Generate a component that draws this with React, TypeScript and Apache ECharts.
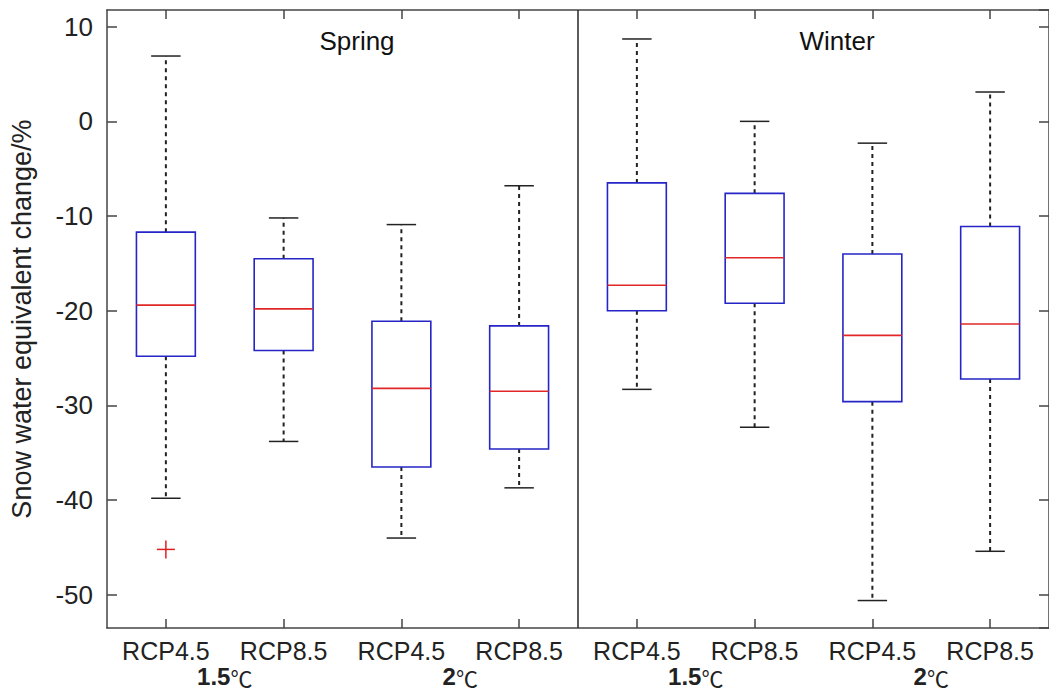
import React, { useEffect, useRef } from "react";
import * as echarts from "echarts";

const categories = ["RCP4.5", "RCP8.5", "RCP4.5", "RCP8.5", "RCP4.5", "RCP8.5", "RCP4.5", "RCP8.5"];
const groupLabels = ["1.5", "2", "1.5", "2"];
const whiskerHigh = [6.9, -10.2, -10.9, -6.8, 8.7, 0.0, -2.3, 3.1];
const q3 = [-11.7, -14.5, -21.1, -21.6, -6.5, -7.6, -14.0, -11.1];
const median = [-19.4, -19.8, -28.2, -28.5, -17.3, -14.4, -22.6, -21.4];
const q1 = [-24.8, -24.2, -36.5, -34.6, -20.0, -19.2, -29.6, -27.2];
const whiskerLow = [-39.8, -33.8, -44.0, -38.7, -28.3, -32.3, -50.6, -45.4];
const outliers = [[0, -45.2]];
const dividerAfter = [3];
const panelTitles = ["Spring", "Winter"];

const FONT = "'Liberation Sans', Arial, sans-serif";
const AXIS_COLOR = "#444";

export default function App() {
  const ref = useRef<HTMLDivElement>(null);
  useEffect(() => {
    if (!ref.current) return;
    const chart = echarts.init(ref.current, null, { renderer: "svg" });
    const boxData = categories.map((_, i) => [i, whiskerLow[i], q1[i], median[i], q3[i], whiskerHigh[i]]);

    const option: any = {
      animation: false,
      backgroundColor: "#fff",
      textStyle: { fontFamily: FONT },
      grid: { left: 105, top: 10, width: 947, height: 618 },
      xAxis: [
        {
          type: "category",
          data: categories,
          position: "bottom",
          boundaryGap: true,
          axisLine: { show: true, onZero: false, lineStyle: { color: AXIS_COLOR, width: 1.5 } },
          axisTick: { show: true, inside: true, alignWithLabel: true, length: 9, lineStyle: { color: AXIS_COLOR, width: 1.5 } },
          axisLabel: { interval: 0, hideOverlap: false, color: "#222", fontSize: 25, lineHeight: 25, fontFamily: FONT, margin: 10 },
          splitLine: { show: false },
        },
        {
          type: "category",
          data: groupLabels,
          position: "bottom",
          boundaryGap: true,
          axisLine: { show: false, onZero: false },
          axisTick: { show: false },
          axisLabel: {
            interval: 0,
            hideOverlap: false,
            margin: 37,
            lineHeight: 23,
            formatter: (v: string) => `{b|${v}}{c|℃}`,
            rich: {
              b: { fontSize: 24, lineHeight: 23, fontWeight: "bold", color: "#222", fontFamily: FONT },
              c: { fontSize: 22, lineHeight: 23, color: "#222", fontFamily: "'Noto Sans CJK SC', sans-serif" },
            },
          },
        },
        {
          type: "category",
          data: categories,
          position: "top",
          boundaryGap: true,
          axisLine: { show: true, onZero: false, lineStyle: { color: AXIS_COLOR, width: 1.5 } },
          axisTick: { show: true, inside: true, alignWithLabel: true, length: 9, lineStyle: { color: AXIS_COLOR, width: 1.5 } },
          axisLabel: { show: false },
        },
      ],
      yAxis: [
        {
          type: "value",
          min: -53.5,
          max: 11.76,
          position: "left",
          axisLine: { show: true, onZero: false, lineStyle: { color: AXIS_COLOR, width: 1.5 } },
          axisTick: { show: true, inside: true, length: 10, lineStyle: { color: AXIS_COLOR, width: 1.5 } },
          axisLabel: {
            color: "#222",
            fontSize: 26,
            fontFamily: FONT,
            margin: 14,
            showMinLabel: false,
            showMaxLabel: false,
            formatter: (v: number) => (Math.abs(v % 10) < 1e-6 ? String(v) : ""),
          },
          splitLine: { show: false },
          name: "Snow water equivalent change/%",
          nameLocation: "middle",
          nameGap: 72,
          nameTextStyle: { fontSize: 27, color: "#222", fontFamily: FONT },
        },
        {
          type: "value",
          min: -53.5,
          max: 11.76,
          position: "right",
          axisLine: { show: true, onZero: false, lineStyle: { color: AXIS_COLOR, width: 1.5 } },
          axisTick: { show: true, inside: true, length: 10, lineStyle: { color: AXIS_COLOR, width: 1.5 } },
          axisLabel: { show: false },
          splitLine: { show: false },
        },
      ],
      graphic: [
        { type: "text", x: 357, y: 41, style: { text: panelTitles[0], fontSize: 26, fontFamily: FONT, fill: "#111", textAlign: "center", textVerticalAlign: "middle" } },
        { type: "text", x: 837, y: 41, style: { text: panelTitles[1], fontSize: 26, fontFamily: FONT, fill: "#111", textAlign: "center", textVerticalAlign: "middle" } },
      ],
      series: [
        {
          type: "custom",
          xAxisIndex: 0,
          yAxisIndex: 0,
          data: boxData,
          renderItem: (params: any, api: any) => {
            const i = api.value(0);
            const low = api.coord([i, api.value(1)]);
            const pq1 = api.coord([i, api.value(2)]);
            const pmed = api.coord([i, api.value(3)]);
            const pq3 = api.coord([i, api.value(4)]);
            const high = api.coord([i, api.value(5)]);
            const band = api.size([1, 0])[0];
            const bw = band * 0.5;
            const cw = band * 0.25;
            const cx = pmed[0];
            const dash = { stroke: "#222", lineWidth: 2, lineDash: [4, 4] };
            const solid = { stroke: "#222", lineWidth: 1.5 };
            return {
              type: "group",
              children: [
                { type: "line", shape: { x1: cx, y1: pq3[1], x2: cx, y2: high[1] }, style: dash },
                { type: "line", shape: { x1: cx, y1: pq1[1], x2: cx, y2: low[1] }, style: dash },
                { type: "line", shape: { x1: cx - cw / 2, y1: high[1], x2: cx + cw / 2, y2: high[1] }, style: solid },
                { type: "line", shape: { x1: cx - cw / 2, y1: low[1], x2: cx + cw / 2, y2: low[1] }, style: solid },
                {
                  type: "rect",
                  shape: { x: cx - bw / 2, y: pq3[1], width: bw, height: pq1[1] - pq3[1] },
                  style: { fill: "none", stroke: "#2525c8", lineWidth: 1.6 },
                },
                { type: "line", shape: { x1: cx - bw / 2, y1: pmed[1], x2: cx + bw / 2, y2: pmed[1] }, style: { stroke: "#e02828", lineWidth: 1.6 } },
              ],
            };
          },
          z: 3,
        },
        {
          type: "custom",
          xAxisIndex: 0,
          yAxisIndex: 0,
          data: outliers,
          renderItem: (params: any, api: any) => {
            const p = api.coord([api.value(0), api.value(1)]);
            const h = 9;
            const st = { stroke: "#e02020", lineWidth: 1.5 };
            return {
              type: "group",
              children: [
                { type: "line", shape: { x1: p[0] - h, y1: p[1], x2: p[0] + h, y2: p[1] }, style: st },
                { type: "line", shape: { x1: p[0], y1: p[1] - h, x2: p[0], y2: p[1] + h }, style: st },
              ],
            };
          },
          z: 4,
        },
        {
          type: "custom",
          xAxisIndex: 0,
          yAxisIndex: 0,
          data: dividerAfter.map((d) => [d, 0]),
          renderItem: (params: any, api: any) => {
            const i = api.value(0);
            const a = api.coord([i, 0]);
            const b = api.coord([i + 1, 0]);
            const x = (a[0] + b[0]) / 2;
            const cs = params.coordSys;
            return {
              type: "line",
              shape: { x1: x, y1: cs.y, x2: x, y2: cs.y + cs.height },
              style: { stroke: "#333", lineWidth: 1.6 },
            };
          },
          z: 2,
        },
      ],
    };
    chart.setOption(option);
    return () => chart.dispose();
  }, []);
  return (
    <div
      ref={ref}
      style={{ position: "fixed", left: 0, top: 0, width: 1049, height: 693, background: "#fff" }}
    />
  );
}
